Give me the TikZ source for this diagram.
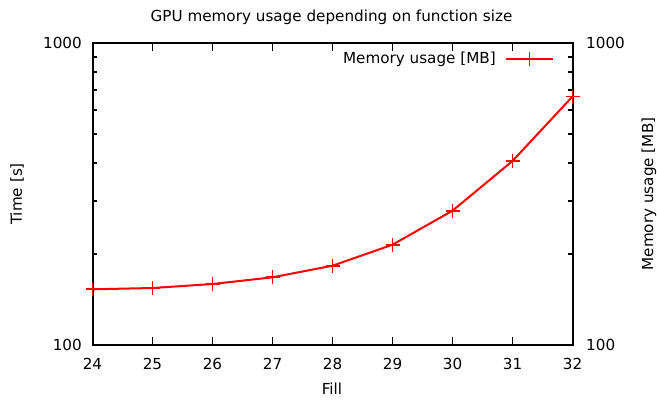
\documentclass[tikz,border=0pt]{standalone}
\usepackage{fontspec}
\setmainfont{DejaVu Sans}
\begin{document}
\begin{tikzpicture}[x=1bp,y=-1bp,
  lbl/.style={font=\fontsize{15.2bp}{18bp}\selectfont, inner sep=0pt},
  axisline/.style={line width=2bp, black},
  tickline/.style={line width=1.6bp, black},
  curve/.style={line width=2bp, red, line join=round},
  mk/.style={line width=1.8bp, red}
]
\useasboundingbox (0,0) rectangle (657,399);
% ticks on x
\foreach \k in {24,...,32}{
  \pgfmathsetmacro\xx{92.5+60*(\k-24)}
  \draw[tickline] (\xx,345) -- (\xx,337);
  \draw[tickline] (\xx,43) -- (\xx,51);
  \node[lbl] (xl\k) at (\xx,363.5) {\k};
}
% minor ticks on y
\foreach \v in {2,...,9}{
  \pgfmathsetmacro\yy{345-302*log10(\v)}
  \draw[tickline] (92.5,\yy) -- (97,\yy);
  \draw[tickline] (572.5,\yy) -- (568,\yy);
}
% frame
\draw[axisline] (92.5,43) rectangle (572.5,345);
% y labels
\node[lbl, anchor=east] (yl100) at (82,345) {100};
\node[lbl, anchor=east] (yl1000) at (82,43) {1000};
\node[lbl, anchor=west] (yr100) at (586,345) {100};
\node[lbl, anchor=west] (yr1000) at (586,43) {1000};
% axis titles
\node[lbl] (title) at (331.5,17) {GPU memory usage depending on function size};
\node[lbl] (xtitle) at (332,389) {Fill};
\node[lbl, rotate=90] (ytitle) at (17,194) {Time [s]};
\node[lbl, rotate=90] (y2title) at (649,194) {Memory usage [MB]};
% data
\coordinate (p24) at (92.5,289.3);
\coordinate (p25) at (152.5,288);
\coordinate (p26) at (212.5,284);
\coordinate (p27) at (272.5,277.3);
\coordinate (p28) at (332.5,265.7);
\coordinate (p29) at (392.5,244.7);
\coordinate (p30) at (452.5,210.7);
\coordinate (p31) at (512.5,161);
\coordinate (p32) at (572.5,96.5);
\draw[curve] (p24) -- (p25) -- (p26) -- (p27) -- (p28) -- (p29) -- (p30) -- (p31) -- (p32);
\foreach \p in {p24,p25,p26,p27,p28,p29,p30,p31,p32}{
  \draw[mk] ([xshift=-7bp]\p) -- ([xshift=7bp]\p);
  \draw[mk] ([yshift=-7bp]\p) -- ([yshift=7bp]\p);
}
% legend
\node[lbl, anchor=east] (legtext) at (496,59) {Memory usage [MB]};
\coordinate (lega) at (505.5,59);
\coordinate (legb) at (553,59);
\coordinate (legm) at (529.5,59);
\draw[curve] (lega) -- (legb);
\draw[mk] ([xshift=-7bp]legm) -- ([xshift=7bp]legm);
\draw[mk] ([yshift=-7bp]legm) -- ([yshift=7bp]legm);
\end{tikzpicture}
\end{document}
